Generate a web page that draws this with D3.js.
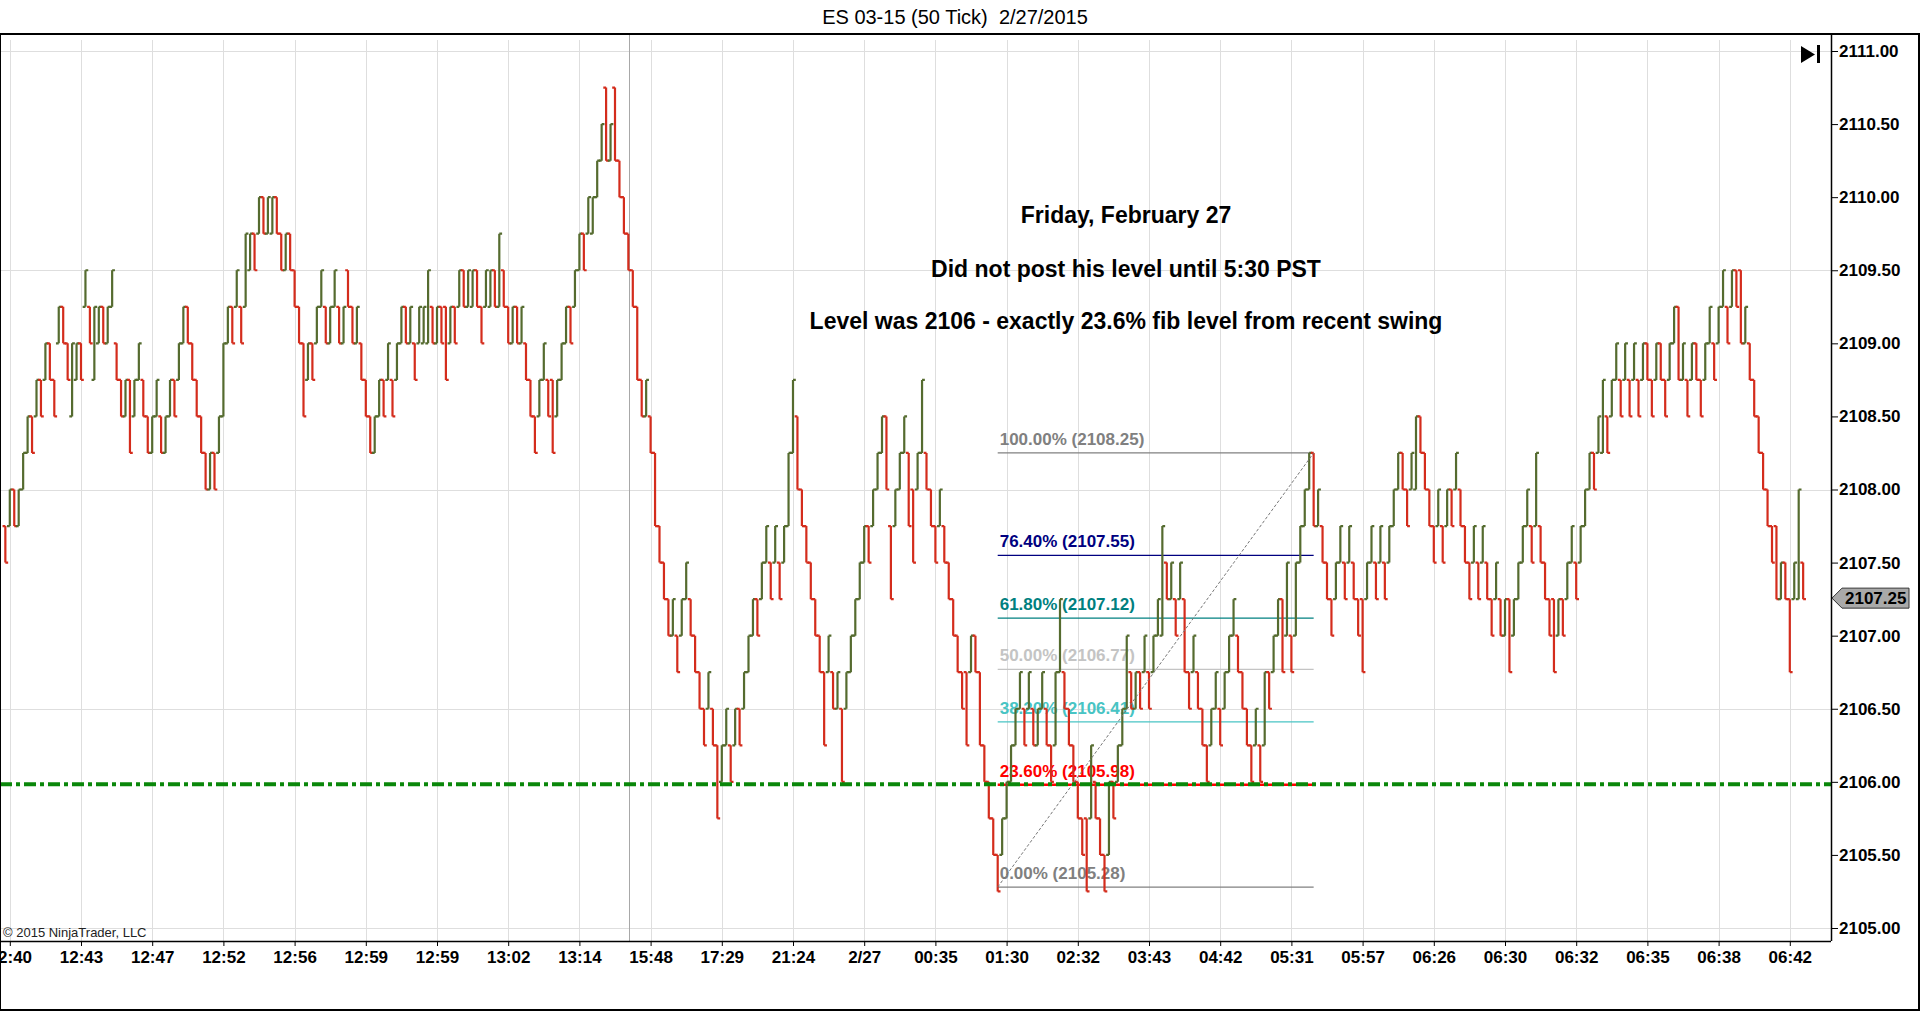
<!DOCTYPE html>
<html>
<head>
<meta charset="utf-8">
<script src="https://d3js.org/d3.v7.min.js"></script>
<style>
  html, body { margin: 0; padding: 0; background: #fff; }
  svg { display: block; font-family: "Liberation Sans", Arial, sans-serif; }
</style>
</head>
<body>
<svg id="chart" width="1920" height="1011"></svg>
<script>
const chartTitle = "ES 03-15 (50 Tick)  2/27/2015";
const basePrice = 2105, tickSize = 0.25;

// 50 tick bars, low / high in ticks above 2105.00, 1 = up bar
const barLows = [
  10,11,11,11,12,13,13,14,14,15,15,14,16,16,15,14,
  15,15,17,16,15,16,16,16,17,15,14,14,13,14,15,14,
  13,13,14,13,13,14,14,15,16,16,15,14,13,12,12,12,
  13,14,16,16,17,16,17,18,18,19,19,19,19,19,18,18,
  18,17,16,14,15,15,16,17,16,16,17,16,16,17,16,16,
  15,14,13,13,14,14,15,14,15,16,16,16,15,16,16,16,
  16,16,16,15,16,16,17,17,17,17,17,16,17,17,17,17,
  17,16,16,16,16,15,14,13,14,15,14,13,14,15,16,16,
  17,18,18,19,19,20,21,21,21,21,20,19,18,17,15,14,
  14,13,11,10,9,8,8,7,8,9,8,7,6,5,6,5,
  3,4,5,4,5,5,6,7,8,8,9,10,9,10,9,10,
  11,13,12,11,10,9,8,7,5,7,6,6,4,6,7,8,
  9,10,10,11,12,13,12,9,11,12,13,11,10,12,13,12,
  11,10,11,10,9,8,7,6,5,7,7,5,4,3,2,1,
  2,3,4,5,6,5,6,5,5,6,5,4,5,7,6,5,
  4,3,2,1,3,3,2,1,2,3,4,5,6,6,6,6,
  7,6,7,8,8,9,9,8,9,7,6,7,6,5,4,5,
  6,5,6,7,8,7,6,5,4,5,4,5,6,7,8,7,
  8,7,8,10,11,12,11,11,10,9,8,9,10,9,10,9,
  8,7,9,10,9,10,9,10,11,12,12,11,12,12,13,12,
  11,10,11,10,11,11,12,11,10,9,10,9,10,9,8,9,
  8,8,7,8,9,10,11,10,11,10,9,8,7,8,8,9,
  10,9,10,11,12,12,13,13,13,14,15,14,15,14,15,14,
  15,15,14,15,15,14,15,16,15,15,14,15,15,14,15,16,
  15,16,17,16,17,17,16,16,15,14,13,12,11,10,9,9,
  9,7,9,9,9
];
const barHighs = [
  11,12,12,12,13,14,14,15,15,16,16,15,17,17,16,16,
  16,16,18,17,17,17,17,17,18,16,15,15,15,15,16,15,
  14,14,15,14,14,15,15,16,17,17,16,15,14,13,13,13,
  14,16,17,17,18,17,19,19,19,20,20,20,20,20,19,19,
  19,18,17,16,16,16,17,18,17,17,18,17,17,18,17,17,
  16,15,14,14,15,15,16,15,16,17,17,17,16,17,17,18,
  17,17,17,17,17,17,18,18,18,18,18,17,18,18,18,19,
  18,17,17,17,17,16,15,14,15,16,15,15,15,16,17,17,
  18,19,19,20,20,21,22,23,22,23,21,20,19,18,17,15,
  15,14,13,11,10,9,9,8,9,10,9,8,7,6,7,6,
  5,5,6,5,6,6,7,8,9,9,10,11,10,11,10,11,
  13,15,14,12,11,10,9,8,7,8,7,7,6,7,8,9,
  10,11,11,12,13,14,14,11,12,13,14,13,12,13,15,13,
  12,11,12,11,10,9,8,7,7,8,8,7,5,4,3,2,
  3,4,5,6,7,6,7,6,6,7,6,5,7,9,7,6,
  5,4,3,3,5,4,3,2,4,4,5,6,8,7,7,7,
  8,7,8,9,11,10,10,9,10,9,7,8,7,6,5,6,
  7,6,7,8,9,8,7,6,5,6,5,7,7,8,9,9,
  10,8,10,11,12,13,13,12,11,10,9,10,11,10,11,10,
  9,9,10,11,10,11,10,11,12,13,13,12,13,14,14,13,
  12,11,12,11,12,12,13,12,11,10,11,10,11,10,9,10,
  9,9,9,9,10,11,12,11,13,11,10,9,9,9,9,10,
  11,10,11,12,13,13,14,15,14,15,16,15,16,15,16,15,
  16,16,15,16,16,15,16,17,17,16,15,16,16,15,16,17,
  16,17,18,17,18,18,18,17,16,15,14,13,12,11,11,10,
  10,9,10,12,10
];
const barUps = [
  0,1,0,1,1,1,0,1,0,1,0,0,1,0,0,1,
  1,0,1,0,1,1,0,1,1,0,0,1,0,1,1,0,
  0,1,1,0,1,1,0,1,1,0,0,0,0,0,1,0,
  1,1,1,0,1,0,1,1,0,1,0,1,1,0,0,1,
  0,0,0,0,1,0,1,1,0,1,1,0,1,0,0,1,
  0,0,0,1,1,0,1,0,1,1,0,1,0,1,1,1,
  0,1,0,0,1,0,1,0,1,1,0,0,1,1,0,1,
  0,0,1,0,1,0,0,0,1,1,0,0,1,1,1,0,
  1,1,0,1,1,1,1,0,1,0,0,0,0,0,0,0,
  1,0,0,0,0,0,1,0,1,1,0,0,0,0,1,0,
  0,1,1,0,1,0,1,1,1,0,1,1,0,1,0,1,
  1,1,0,0,0,0,0,0,0,1,0,1,0,1,1,1,
  1,1,0,1,1,1,0,0,1,1,1,0,0,1,1,0,
  0,0,1,0,0,0,0,0,0,1,0,0,0,0,0,0,
  1,1,1,1,1,0,1,0,1,1,0,0,1,1,0,0,
  0,0,0,0,1,0,0,0,1,0,1,1,1,0,1,0,
  1,0,1,1,1,0,1,0,1,0,0,1,0,0,0,1,
  1,0,1,1,1,0,0,0,0,1,0,1,0,1,1,0,
  1,0,1,1,1,1,0,1,0,0,0,1,1,0,1,0,
  0,0,1,1,0,1,0,1,1,1,0,0,1,1,0,0,
  0,0,1,0,1,0,1,0,0,0,1,0,1,0,0,1,
  0,1,0,1,1,1,1,0,1,0,0,0,0,1,0,1,
  1,0,1,1,1,0,1,1,0,1,1,0,1,0,1,0,
  1,0,0,1,0,0,1,1,0,1,0,1,0,0,1,1,
  0,1,1,0,1,0,0,1,0,0,0,0,0,0,0,1,
  0,0,1,1,0
];

// time labels, one every 16 bars starting at bar 1
const timeLabels = ["12:40","12:43","12:47","12:52","12:56","12:59","12:59","13:02","13:14",
  "15:48","17:29","21:24","2/27","00:35","01:30","02:32","03:43","04:42","05:31","05:57",
  "06:26","06:30","06:32","06:35","06:38","06:42"];
const labelBars = timeLabels.map((d, i) => 1 + 16 * i);
const sessionBreakBar = 140.1;

const priceTicks = d3.range(2105, 2111.01, 0.5);
const gridPrices = [2105, 2106.5, 2108, 2109.5, 2111];

// fib retracement drawn from bar 223 low to bar 294 high
const fibBars = [223, 294];
const fibNames = ["100.00%", "76.40%", "61.80%", "50.00%", "38.20%", "23.60%", "0.00%"];
const fibPrices = [2108.25, 2107.55, 2107.12, 2106.77, 2106.41, 2105.98, 2105.28];
const fibColors = ["#808080", "#000080", "#008080", "#c4c4c4", "#48c4c4", "#ff0000", "#808080"];

const levelPrice = 2106;
const notes = ["Friday, February 27", "Did not post his level until 5:30 PST",
  "Level was 2106 - exactly 23.6% fib level from recent swing"];

const W = 1920, H = 1011;
const plotTop = 34, plotBottom = 941, plotRight = 1831;
const upColor = "#556b2f", downColor = "#d42c1c";

const svg = d3.select("#chart");

const x = d3.scaleLinear().domain([1, 401]).range([9.8, 1789.8]);
const y = d3.scaleLinear().domain([2105, 2111]).range([928, 51]);

svg.append("rect").attr("width", W).attr("height", H).attr("fill", "#fff");

svg.append("text")
    .attr("x", 955).attr("y", 24)
    .attr("text-anchor", "middle")
    .style("font-size", "20px")
    .style("white-space", "pre")
    .text(chartTitle);

// grid
const grid = svg.append("g").attr("id", "grid");
grid.selectAll("line.h")
    .data(gridPrices)
    .enter()
    .append("line")
    .attr("x1", 0).attr("x2", plotRight)
    .attr("y1", (d) => Math.round(y(d)) + 0.5).attr("y2", (d) => Math.round(y(d)) + 0.5)
    .attr("stroke", "#dedede");
grid.selectAll("line.v")
    .data(labelBars)
    .enter()
    .append("line")
    .attr("x1", (d) => Math.round(x(d)) + 0.5).attr("x2", (d) => Math.round(x(d)) + 0.5)
    .attr("y1", plotTop + 6).attr("y2", plotBottom)
    .attr("stroke", "#dedede");
grid.append("line")
    .attr("x1", Math.round(x(sessionBreakBar)) + 0.5).attr("x2", Math.round(x(sessionBreakBar)) + 0.5)
    .attr("y1", plotTop).attr("y2", plotBottom)
    .attr("stroke", "#a8a8a8");

svg.append("text")
    .attr("x", 3).attr("y", 937)
    .style("font-size", "13px")
    .attr("fill", "#222")
    .text("\u00a9 2015 NinjaTrader, LLC");

// fib tool
const fib = svg.append("g").attr("id", "fib");
const fx1 = x(fibBars[0]), fx2 = x(fibBars[1]);
fib.selectAll("line")
    .data(fibPrices)
    .enter()
    .append("line")
    .attr("x1", fx1).attr("x2", fx2)
    .attr("y1", (d) => y(d)).attr("y2", (d) => y(d))
    .attr("stroke", (d, i) => fibColors[i])
    .attr("stroke-width", (d, i) => fibNames[i] == "23.60%" ? 2.5 : 1.2);
fib.selectAll("text")
    .data(fibPrices)
    .enter()
    .append("text")
    .attr("x", fx1 + 2)
    .attr("y", (d) => y(d) - 8)
    .attr("fill", (d, i) => fibColors[i])
    .style("font-size", "17px")
    .style("font-weight", "bold")
    .text((d, i) => fibNames[i] + " (" + d.toFixed(2) + ")");

// OHLC bars
const bars = svg.append("g").attr("id", "bars")
    .selectAll("path")
    .data(barLows.map((lo, i) => ({
        i: i,
        low: basePrice + lo * tickSize,
        high: basePrice + barHighs[i] * tickSize,
        up: barUps[i] == 1
    })))
    .enter()
    .append("path")
    .attr("d", (d) => {
        const cx = x(d.i);
        const yo = d.up ? y(d.low) : y(d.high);
        const yc = d.up ? y(d.high) : y(d.low);
        return "M" + cx + "," + y(d.high) + "V" + y(d.low) +
            "M" + (cx - 2.8) + "," + yo + "H" + cx +
            "M" + cx + "," + yc + "H" + (cx + 2.8);
    })
    .attr("fill", "none")
    .attr("stroke", (d) => d.up ? upColor : downColor)
    .attr("stroke-width", 2.2);

// diagonal of the fib
svg.append("line")
    .attr("x1", fx1).attr("y1", y(fibPrices[6]))
    .attr("x2", fx2).attr("y2", y(fibPrices[0]))
    .attr("stroke", "#777")
    .attr("stroke-width", 1)
    .attr("stroke-dasharray", "3,2");

// horizontal level line
svg.append("line")
    .attr("x1", 0).attr("x2", plotRight)
    .attr("y1", y(levelPrice) + 2.5).attr("y2", y(levelPrice) + 2.5)
    .attr("stroke", "#0a870a")
    .attr("stroke-width", 4)
    .attr("stroke-dasharray", "12,4,4,4");

// notes
svg.append("g").attr("id", "notes")
    .selectAll("text")
    .data(notes)
    .enter()
    .append("text")
    .attr("x", 1126)
    .attr("y", (d, i) => [223, 277, 329][i])
    .attr("text-anchor", "middle")
    .style("font-size", "23px")
    .style("font-weight", "bold")
    .text((d) => d);

// price axis
const yAxis = svg.append("g")
    .attr("transform", "translate(" + plotRight + ",0)")
    .call(d3.axisRight(y).tickValues(priceTicks).tickFormat(d3.format(".2f")).tickSize(7).tickPadding(1));
yAxis.select(".domain").remove();
yAxis.selectAll(".tick line").attr("stroke", "#000");
yAxis.selectAll("text")
    .attr("fill", "#000")
    .style("font-size", "17px")
    .style("font-weight", "bold")
    .style("font-family", "'Liberation Sans', Arial, sans-serif");

// time axis
const xAxis = svg.append("g")
    .attr("transform", "translate(0," + plotBottom + ")")
    .call(d3.axisBottom(x).tickValues(labelBars).tickFormat((d, i) => timeLabels[i]).tickSize(5).tickPadding(5));
xAxis.select(".domain").remove();
xAxis.selectAll(".tick line").attr("stroke", "#000");
xAxis.selectAll("text")
    .attr("fill", "#000")
    .style("font-size", "17px")
    .style("font-weight", "bold")
    .style("font-family", "'Liberation Sans', Arial, sans-serif");

// last price marker
const lastClose = basePrice + (barUps[barUps.length - 1] == 1 ? barHighs[barHighs.length - 1] : barLows[barLows.length - 1]) * tickSize;
const ly = y(lastClose) - 1;
svg.append("path")
    .attr("d", "M" + (plotRight + 1) + "," + ly + "L" + (plotRight + 11) + "," + (ly - 10) +
        "H1909V" + (ly + 10) + "H" + (plotRight + 11) + "Z")
    .attr("fill", "#a9a9a9")
    .attr("stroke", "#333");
svg.append("text")
    .attr("x", plotRight + 14).attr("y", ly + 6)
    .style("font-size", "17px")
    .style("font-weight", "bold")
    .text(lastClose.toFixed(2));

// frame and axis lines
const frame = svg.append("g").attr("stroke", "#000").attr("fill", "none");
frame.append("line").attr("x1", 0).attr("x2", W).attr("y1", plotTop).attr("y2", plotTop).attr("stroke-width", 2);
frame.append("line").attr("x1", 0.5).attr("x2", 0.5).attr("y1", plotTop).attr("y2", H);
frame.append("line").attr("x1", W - 1).attr("x2", W - 1).attr("y1", plotTop).attr("y2", H).attr("stroke-width", 2);
frame.append("line").attr("x1", 0).attr("x2", W).attr("y1", H - 1).attr("y2", H - 1).attr("stroke-width", 2);
frame.append("line").attr("x1", 0).attr("x2", plotRight).attr("y1", plotBottom + 0.5).attr("y2", plotBottom + 0.5).attr("stroke-width", 1.5);
frame.append("line").attr("x1", plotRight + 0.5).attr("x2", plotRight + 0.5).attr("y1", plotTop).attr("y2", plotBottom).attr("stroke-width", 1.5);

// scroll-to-end button
svg.append("path").attr("d", "M1801,46L1815,54.5L1801,63Z").attr("fill", "#000");
svg.append("rect").attr("x", 1817).attr("y", 45).attr("width", 3).attr("height", 18).attr("fill", "#000");
</script>
</body>
</html>
